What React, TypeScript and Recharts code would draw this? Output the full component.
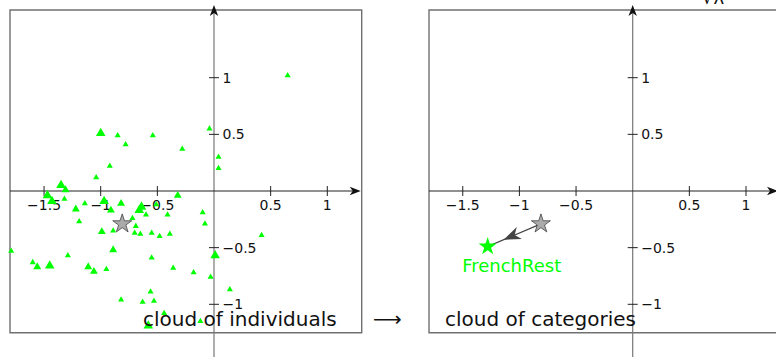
import React from 'react';
import { ScatterChart, Scatter, XAxis, YAxis, ReferenceLine, ReferenceArea, Symbols } from 'recharts';

// individuals on the first factorial plane: [dim1, dim2, weight]
const individuals: [number, number, number][] = [
  [0.65, 1.02, 1], [-0.04, 0.55, 1], [-1.0, 0.51, 3], [-0.85, 0.49, 1],
  [-0.78, 0.41, 1], [-0.54, 0.49, 1], [-0.28, 0.37, 1], [0.04, 0.3, 1],
  [0.04, 0.2, 1], [-0.92, 0.22, 1], [-1.04, 0.12, 1], [-1.35, 0.05, 3],
  [-1.31, 0.01, 2], [-1.47, -0.04, 3], [-1.43, -0.09, 3], [-1.32, -0.07, 1],
  [-1.22, -0.16, 2], [-1.14, -0.11, 1], [-1.19, -0.27, 1], [-0.97, -0.09, 3],
  [-0.91, -0.17, 2], [-0.82, -0.11, 2], [-0.64, -0.14, 3], [-0.66, -0.17, 3],
  [-0.6, -0.21, 1], [-0.51, -0.12, 1], [-0.41, -0.21, 1], [-0.32, -0.04, 2],
  [-0.72, -0.24, 1], [-0.69, -0.31, 1], [-0.7, -0.37, 1], [-0.65, -0.38, 1],
  [-0.89, -0.35, 1], [-0.99, -0.36, 2], [-0.55, -0.37, 1], [-0.48, -0.4, 1],
  [-0.39, -0.38, 1], [-0.1, -0.19, 1], [-0.08, -0.29, 1], [0.42, -0.39, 1],
  [-1.79, -0.53, 1], [-0.89, -0.52, 2], [-1.29, -0.57, 1], [-1.6, -0.63, 1],
  [-1.56, -0.67, 2], [-1.45, -0.66, 3], [-1.11, -0.67, 2], [-1.06, -0.71, 2],
  [-0.95, -0.69, 1], [-0.55, -0.59, 1], [-0.36, -0.68, 1], [-0.18, -0.72, 1],
  [0.01, -0.57, 3], [-0.03, -0.76, 1], [0.14, -0.87, 1], [-0.82, -0.96, 1],
  [-0.56, -0.89, 1], [-0.63, -0.98, 1], [-0.53, -0.97, 1], [-0.44, -1.08, 1],
  [-0.58, -1.19, 3], [-0.12, -1.15, 1],
];

const meanPoint = [{ x: -0.81, y: -0.29 }];
const categoryPoint = [{ x: -1.28, y: -0.49, name: 'FrenchRest' }];

const xTicks = [-1.5, -1, -0.5, 0.5, 1];
const yTicks = [1, 0.5, -0.5, -1];
const captions = ['cloud of individuals', 'cloud of categories'];
const axisName = '√λ';

const indData = individuals.map(([x, y, w]) => ({ x, y, w }));

// layout (pixels)
const H = 357;
const UNIT = 113.3;
const ORIGIN_Y = 191;
const BOX_TOP = 10;
const BOX_BOTTOM = 332.7;
const AXIS_TOP = 5;
const FONT = '"DejaVu Sans", sans-serif';
const GREEN = '#00ff00';
const TRI_SIZE: Record<number, number> = { 1: 16, 2: 27, 3: 40 };

const toY = (py: number) => (ORIGIN_Y - py) / UNIT;
const fmt = (v: number) => (v < 0 ? '\u2212' + Math.abs(v) : String(v));

const arrowHead = (tx: number, ty: number, dx: number, dy: number, len: number, hw: number, notch: number) => {
  const nx = -dy;
  const ny = dx;
  const bx = tx - dx * len;
  const by = ty - dy * len;
  const mx = tx - dx * (len - notch);
  const my = ty - dy * (len - notch);
  return `M${tx},${ty}L${bx + nx * hw},${by + ny * hw}L${mx},${my}L${bx - nx * hw},${by - ny * hw}Z`;
};

const axisShape = (color: string) => (p: any) => {
  const { x1, y1, x2, y2 } = p;
  const L = Math.hypot(x2 - x1, y2 - y1) || 1;
  const dx = (x2 - x1) / L;
  const dy = (y2 - y1) / L;
  return (
    <g>
      <line x1={x1} y1={y1} x2={x2 - dx * 6} y2={y2 - dy * 6} stroke={color} strokeWidth={1.2} />
      <path d={arrowHead(x2, y2, dx, dy, 11, 4.2, 3)} fill="#111" />
    </g>
  );
};

const xTickShape = (label: string) => (p: any) => (
  <g>
    <line x1={p.x1} y1={p.y1 - 5} x2={p.x1} y2={p.y1 + 5} stroke="#222" strokeWidth={1} />
    <text x={p.x1} y={p.y1 + 19} textAnchor="middle" fontFamily={FONT} fontSize={14} fill="#111">
      {label}
    </text>
  </g>
);

const yTickShape = (label: string) => (p: any) => (
  <g>
    <line x1={p.x1 - 5} y1={p.y1} x2={p.x1 + 5} y2={p.y1} stroke="#222" strokeWidth={1} />
    <text x={p.x1 + 8.5} y={p.y1 + 5} textAnchor="start" fontFamily={FONT} fontSize={14} fill="#111">
      {label}
    </text>
  </g>
);

// line from the mean point to the category with a stealth head part way along
const moveShape = (p: any) => {
  const { x1, y1, x2, y2 } = p;
  const L = Math.hypot(x2 - x1, y2 - y1) || 1;
  const dx = (x2 - x1) / L;
  const dy = (y2 - y1) / L;
  const tx = x1 + dx * L * 0.7;
  const ty = y1 + dy * L * 0.7;
  return (
    <g>
      <line x1={x1} y1={y1} x2={x2} y2={y2} stroke="#444" strokeWidth={1.2} />
      <path d={arrowHead(tx, ty, dx, dy, 17, 6.5, 5)} fill="#444" />
    </g>
  );
};

const Triangle = (p: any) => (
  <Symbols cx={p.cx} cy={p.cy} type="triangle" size={TRI_SIZE[p.payload?.w ?? 1]} fill={GREEN} />
);

const MeanStar = (p: any) => (
  <Symbols cx={p.cx} cy={p.cy} type="star" size={112} fill="#aaaaaa" stroke="#444" strokeWidth={0.8} />
);

const CategoryStar = (p: any) => (
  <g>
    <Symbols cx={p.cx} cy={p.cy} type="star" size={101} fill={GREEN} />
    <text x={p.cx + 24} y={p.cy + 25.7} textAnchor="middle" fontFamily={FONT} fontSize={18} fill={GREEN}>
      {p.payload?.name}
    </text>
  </g>
);

interface PanelProps {
  left: number;
  width: number;
  originX: number;
  boxLeft: number;
  boxRight: number;
  arrowTip: number;
  children?: React.ReactNode;
}

function Panel({ left, width, originX, boxLeft, boxRight, arrowTip, children }: PanelProps) {
  const toX = (px: number) => (px - originX) / UNIT;
  const yMin = toY(H);
  return (
    <div style={{ position: 'absolute', left, top: 0 }}>
      <ScatterChart width={width} height={H} margin={{ top: 0, right: 0, bottom: 0, left: 0 }}>
        <XAxis type="number" dataKey="x" domain={[toX(0), toX(width)]} allowDataOverflow hide />
        <YAxis type="number" dataKey="y" domain={[yMin, toY(0)]} allowDataOverflow hide />
        <ReferenceArea
          x1={toX(boxLeft)}
          x2={toX(boxRight)}
          y1={toY(BOX_BOTTOM)}
          y2={toY(BOX_TOP)}
          fill="none"
          fillOpacity={0}
          stroke="#707070"
          strokeWidth={1.4}
          ifOverflow="visible"
        />
        <ReferenceLine
          segment={[{ x: 0, y: yMin }, { x: 0, y: toY(AXIS_TOP) }]}
          ifOverflow="visible"
          shape={axisShape('#777')}
        />
        <ReferenceLine
          segment={[{ x: toX(boxLeft), y: 0 }, { x: toX(arrowTip), y: 0 }]}
          ifOverflow="visible"
          shape={axisShape('#222')}
        />
        {xTicks.map((v) => (
          <ReferenceLine
            key={'x' + v}
            segment={[{ x: v, y: 0 }, { x: v, y: 0 }]}
            ifOverflow="visible"
            shape={xTickShape(fmt(v))}
          />
        ))}
        {yTicks.map((v) => (
          <ReferenceLine
            key={'y' + v}
            segment={[{ x: 0, y: v }, { x: 0, y: v }]}
            ifOverflow="visible"
            shape={yTickShape(fmt(v))}
          />
        ))}
        {children}
      </ScatterChart>
    </div>
  );
}

export default function App() {
  return (
    <div style={{ position: 'absolute', left: 0, top: 0, width: 776, height: H, overflow: 'hidden', background: '#fff' }}>
      <Panel left={0} width={370} originX={214} boxLeft={10} boxRight={361.7} arrowTip={360.7}>
        <Scatter data={indData} shape={Triangle} isAnimationActive={false} />
        <Scatter data={meanPoint} shape={MeanStar} isAnimationActive={false} />
      </Panel>
      <Panel left={376} width={400} originX={256.7} boxLeft={53} boxRight={430} arrowTip={402}>
        <ReferenceLine
          segment={[
            { x: meanPoint[0].x, y: meanPoint[0].y },
            { x: categoryPoint[0].x, y: categoryPoint[0].y },
          ]}
          ifOverflow="visible"
          shape={moveShape}
        />
        <Scatter data={categoryPoint} shape={CategoryStar} isAnimationActive={false} />
        <Scatter data={meanPoint} shape={MeanStar} isAnimationActive={false} />
      </Panel>
      <svg width={776} height={H} style={{ position: 'absolute', left: 0, top: 0, pointerEvents: 'none' }}>
        <text x={143} y={326} fontFamily={FONT} fontSize={20} fill="#111">{captions[0]}</text>
        <text x={373} y={326} fontFamily={FONT} fontSize={20} fill="#111">{'\u27F6'}</text>
        <text x={445} y={326} fontFamily={FONT} fontSize={20} fill="#111">{captions[1]}</text>
        <text x={702} y={4} fontFamily={FONT} fontSize={18} fill="#111">{axisName}</text>
      </svg>
    </div>
  );
}
